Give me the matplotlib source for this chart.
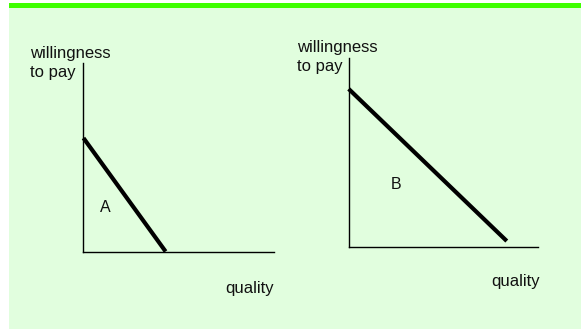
import matplotlib
matplotlib.use("Agg")
import matplotlib.pyplot as plt
from matplotlib.patches import Rectangle

plt.rcParams['font.family'] = ['Liberation Sans', 'DejaVu Sans']

# Data (axis units 0..10)
panels = ["A", "B"]
line_x = {"A": [0.05, 4.34], "B": [0.0, 8.35]}
line_y = {"A": [6.02, 0.0], "B": [8.36, 0.30]}
label_pos = {"A": (1.17, 2.35), "B": (2.5, 3.3)}
ylabel_text = "willingness\nto pay"
xlabel_text = "quality"

W, H = 581, 329
fig = plt.figure(figsize=(W / 100, H / 100), dpi=100, facecolor="white")

def fx(px):
    return px / W

def fy(py):
    return 1 - py / H

# background panel and top bar
fig.patches.append(Rectangle((fx(9), 0), 1 - fx(9), fy(3), transform=fig.transFigure,
                             facecolor="#E1FEDE", edgecolor="none", zorder=-2))
fig.patches.append(Rectangle((fx(9), fy(8.3)), 1 - fx(9), fy(3) - fy(8.3), transform=fig.transFigure,
                             facecolor="#3FFF00", edgecolor="none", zorder=-1))

# axes boxes in pixels: left, right, top, bottom
boxes = {"A": (82.5, 274, 63, 251.5), "B": (348.7, 538, 58, 246.7)}
ylab = {"A": (30, 63), "B": (297, 57)}
xlab = {"A": (274, 288.5), "B": (540, 281.5)}

for p in panels:
    l, r, t, b = boxes[p]
    ax = fig.add_axes([fx(l), fy(b), fx(r) - fx(l), fy(t) - fy(b)])
    ax.set_zorder(5)
    ax.set_xlim(0, 10)
    ax.set_ylim(0, 10)
    ax.patch.set_visible(False)
    for s in ["top", "right"]:
        ax.spines[s].set_visible(False)
    for s in ["left", "bottom"]:
        ax.spines[s].set_linewidth(1.0)
        ax.spines[s].set_color("black")
    ax.set_xticks([])
    ax.set_yticks([])
    ax.plot(line_x[p], line_y[p], color="black", lw=3.0, solid_capstyle="butt", clip_on=False)
    ax.text(label_pos[p][0], label_pos[p][1], p, ha="center", va="center", fontsize=11.5, color="#111111")
    fig.text(fx(ylab[p][0]), fy(ylab[p][1]), ylabel_text, ha="left", va="center",
             fontsize=12, linespacing=1.4, color="#111111", zorder=6)
    fig.text(fx(xlab[p][0]), fy(xlab[p][1]), xlabel_text, ha="right", va="center",
             fontsize=12, color="#111111", zorder=6)

fig.savefig("out.png", dpi=100, facecolor="white")
